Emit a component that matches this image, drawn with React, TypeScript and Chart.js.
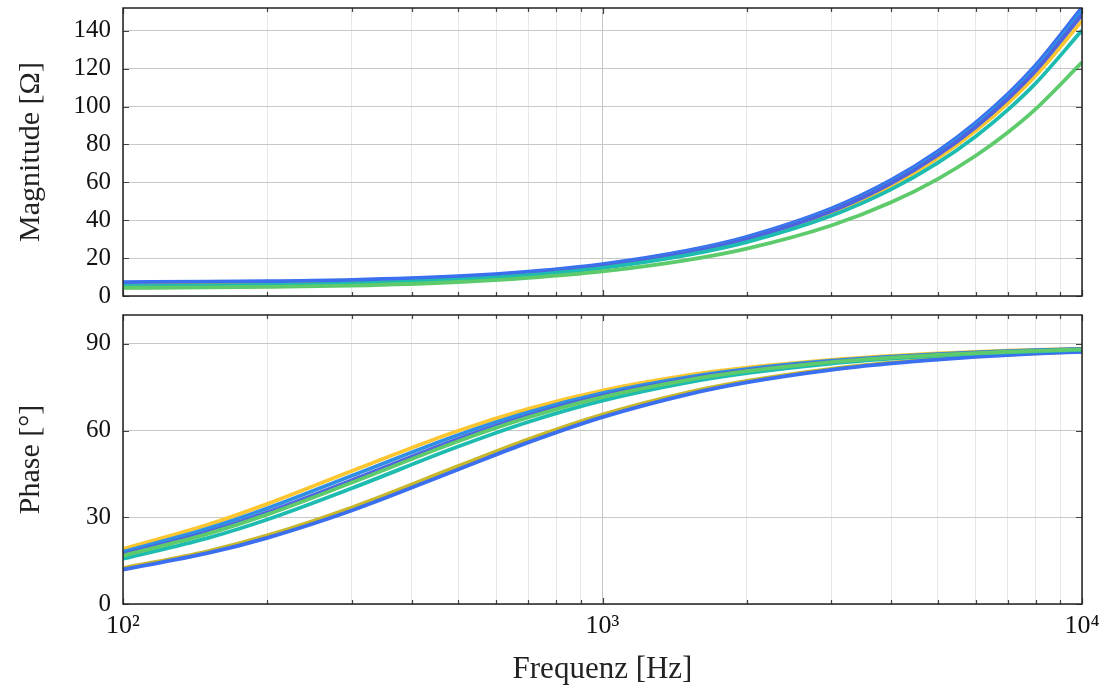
import React, { useEffect, useRef } from "react";
import { Chart, registerables } from "chart.js";
Chart.register(...registerables);

// Frequencies (Hz) at which the curves were read
const freqs = [100, 150, 200, 300, 500, 700, 1000, 1500, 2000, 3000, 4000, 5000, 6000, 7000, 8000, 10000];

// Magnitude [Ohm]
const magBlue = [7.36, 7.55, 7.82, 8.52, 10.47, 12.85, 16.83, 23.92, 31.25, 46.18, 61.25, 76.37, 91.51, 106.6, 121.8, 152.3];
const magOlive = [6.96, 7.16, 7.43, 8.15, 10.11, 12.48, 16.42, 23.44, 30.67, 45.37, 60.2, 75.08, 89.98, 104.9, 119.8, 149.7];
const magSky = [4.84, 5.12, 5.49, 6.44, 8.81, 11.47, 15.71, 23.0, 30.38, 45.28, 60.25, 75.22, 90.22, 105.2, 120.2, 150.3];
const magPurple = [5.02, 5.29, 5.64, 6.54, 8.83, 11.44, 15.59, 22.75, 30.05, 44.74, 59.5, 74.3, 89.1, 103.9, 118.7, 148.4];
const magYellow = [4.44, 4.73, 5.11, 6.05, 8.38, 11.0, 15.11, 22.17, 29.33, 43.74, 58.21, 72.69, 87.18, 101.7, 116.2, 145.2];
const magTeal = [5.19, 5.42, 5.73, 6.53, 8.61, 11.01, 14.88, 21.61, 28.46, 42.34, 56.27, 70.24, 84.22, 98.21, 112.2, 140.2];
const magGreen = [4.28, 4.5, 4.78, 5.52, 7.4, 9.55, 12.98, 18.92, 24.97, 37.18, 49.43, 61.72, 74.0, 86.31, 98.61, 123.3];

// Phase [deg]
const phBlue = [11.93, 17.58, 22.9, 32.36, 46.56, 55.92, 64.67, 72.48, 76.68, 81.03, 83.25, 84.59, 85.49, 86.13, 86.61, 87.29];
const phOlive = [12.4, 18.26, 23.75, 33.42, 47.71, 57.0, 65.55, 73.14, 77.19, 81.38, 83.51, 84.8, 85.67, 86.28, 86.75, 87.4];
const phSky = [18.06, 26.09, 33.14, 44.4, 58.5, 66.36, 72.97, 78.46, 81.29, 84.17, 85.62, 86.49, 87.08, 87.49, 87.81, 88.25];
const phPurple = [17.17, 24.86, 31.71, 42.83, 57.08, 65.18, 72.07, 77.82, 80.81, 83.84, 85.37, 86.3, 86.91, 87.35, 87.68, 88.15];
const phYellow = [19.06, 27.4, 34.65, 46.03, 59.94, 67.54, 73.86, 79.08, 81.77, 84.49, 85.86, 86.69, 87.24, 87.63, 87.93, 88.34];
const phTeal = [15.65, 22.81, 29.26, 40.06, 54.48, 62.99, 70.36, 76.62, 79.88, 83.22, 84.9, 85.92, 86.6, 87.08, 87.45, 87.96];
const phGreen = [16.72, 24.25, 31.0, 42.02, 56.34, 64.56, 71.59, 77.48, 80.55, 83.67, 85.24, 86.19, 86.82, 87.28, 87.62, 88.09];

const seriesColors = ["#5dcb6b", "#1dbbb0", "#4f63e0", "#2f8fe4", "#3a6ff0", "#c8b82a", "#fbc62f"];
const magSeries = [magGreen, magTeal, magPurple, magSky, magBlue, magOlive, magYellow];
const phSeries = [phGreen, phTeal, phPurple, phSky, phBlue, phOlive, phYellow];

const xTickValues = [100, 200, 300, 400, 500, 600, 700, 800, 900, 1000, 2000, 3000, 4000, 5000, 6000, 7000, 8000, 9000, 10000];
const xMajor = [100, 1000, 10000];
const xTickLabels: Record<number, string> = { 100: "10²", 1000: "10³", 10000: "10⁴" };
const magTicks = [0, 20, 40, 60, 80, 100, 120, 140];
const phaseTicks = [0, 30, 60, 90];

const FONT = "'Liberation Serif', 'DejaVu Serif', serif";

const framePlugin = {
  id: "frame",
  afterDatasetsDraw(chart: any) {
    const { ctx, chartArea: a, scales } = chart;
    const x = scales.x;
    const y = scales.y;
    ctx.save();
    ctx.strokeStyle = "#444";
    ctx.lineWidth = 1.2;
    ctx.beginPath();
    for (const v of xTickValues) {
      const px = Math.round(x.getPixelForValue(v)) + 0.5;
      const len = xMajor.includes(v) ? 6 : 4;
      ctx.moveTo(px, a.bottom);
      ctx.lineTo(px, a.bottom - len);
      ctx.moveTo(px, a.top);
      ctx.lineTo(px, a.top + len);
    }
    for (const t of y.ticks) {
      const py = Math.round(y.getPixelForValue(t.value)) + 0.5;
      ctx.moveTo(a.left, py);
      ctx.lineTo(a.left + 6, py);
      ctx.moveTo(a.right, py);
      ctx.lineTo(a.right - 6, py);
    }
    ctx.stroke();
    ctx.strokeStyle = "#222";
    ctx.lineWidth = 1.5;
    ctx.strokeRect(a.left, a.top, a.right - a.left, a.bottom - a.top);
    ctx.restore();
  },
};

function makeConfig(series: number[][], yMax: number, yTicks: number[], yTitle: string, bottom: boolean): any {
  return {
    type: "line",
    data: {
      labels: freqs,
      datasets: series.map((vals, i) => ({
        data: freqs.map((f, j) => ({ x: f, y: vals[j] })),
        borderColor: seriesColors[i],
        backgroundColor: seriesColors[i],
        borderWidth: 3.8,
        pointRadius: 0,
        cubicInterpolationMode: "monotone",
        fill: false,
      })),
    },
    options: {
      responsive: false,
      animation: false,
      devicePixelRatio: 1,
      layout: { padding: bottom ? { top: 9, right: 23, bottom: 0, left: 0 } : { top: 8, right: 23, bottom: 10, left: 0 } },
      plugins: { legend: { display: false }, tooltip: { enabled: false } },
      scales: {
        x: {
          type: "logarithmic",
          min: 100,
          max: 10000,
          afterBuildTicks: (s: any) => {
            s.ticks = xTickValues.map((v) => ({ value: v, major: xMajor.includes(v) }));
          },
          afterFit: (s: any) => {
            s.height = bottom ? 81 : 0;
            s.paddingLeft = 0;
            s.paddingRight = 0;
          },
          border: { display: false },
          grid: {
            drawTicks: false,
            lineWidth: 1,
            color: (c: any) => (c.tick && xMajor.includes(c.tick.value) ? "#c4c4c4" : "#e8e8e8"),
          },
          ticks: {
            display: bottom,
            autoSkip: false,
            maxRotation: 0,
            padding: 7,
            color: "#111",
            font: { family: FONT, size: 26 },
            callback: (v: any) => xTickLabels[v] ?? "",
          },
          title: {
            display: bottom,
            text: "Frequenz [Hz]",
            color: "#222",
            font: { family: FONT, size: 31, lineHeight: 1 },
            padding: { top: 0, bottom: 0 },
          },
        },
        y: {
          type: "linear",
          min: 0,
          max: yMax,
          afterBuildTicks: (s: any) => {
            s.ticks = yTicks.map((v) => ({ value: v }));
          },
          afterFit: (s: any) => {
            s.width = 123;
            s.paddingTop = 0;
            s.paddingBottom = 0;
          },
          border: { display: false },
          grid: { drawTicks: false, color: "#c8c8c8", lineWidth: 1 },
          ticks: {
            padding: 12,
            color: "#111",
            font: { family: FONT, size: 25 },
          },
          title: {
            display: true,
            text: yTitle,
            color: "#222",
            font: { family: FONT, size: 30, lineHeight: 1 },
            padding: { top: 16, bottom: 0 },
          },
        },
      },
    },
    plugins: [framePlugin],
  };
}

export default function App() {
  const topRef = useRef<HTMLCanvasElement>(null);
  const botRef = useRef<HTMLCanvasElement>(null);
  useEffect(() => {
    const c1 = new Chart(topRef.current as any, makeConfig(magSeries, 152, magTicks, "Magnitude [Ω]", false));
    const c2 = new Chart(botRef.current as any, makeConfig(phSeries, 100, phaseTicks, "Phase [°]", true));
    return () => {
      c1.destroy();
      c2.destroy();
    };
  }, []);
  return (
    <div style={{ position: "absolute", left: 0, top: 0, width: 1105, height: 685, background: "#fff" }}>
      <canvas ref={topRef} width={1105} height={306} style={{ position: "absolute", left: 0, top: 0, width: 1105, height: 306 }} />
      <canvas ref={botRef} width={1105} height={379} style={{ position: "absolute", left: 0, top: 306, width: 1105, height: 379 }} />
    </div>
  );
}
